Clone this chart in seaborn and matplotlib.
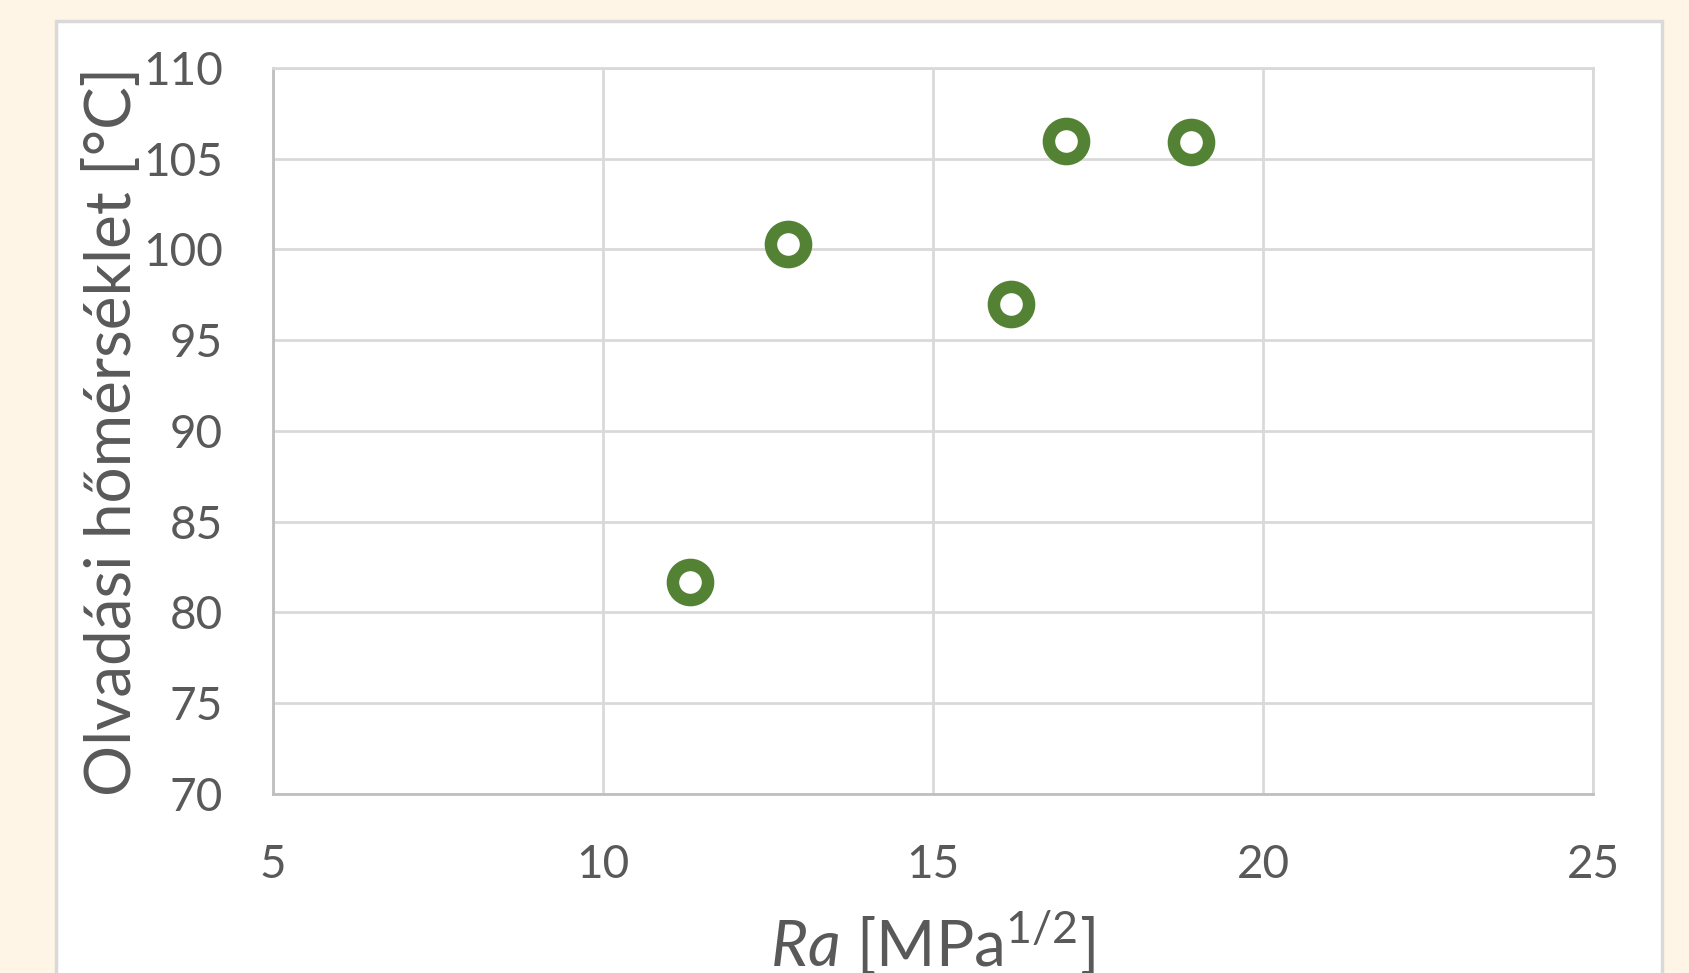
import matplotlib
matplotlib.use("Agg")
import matplotlib.pyplot as plt
import seaborn as sns
import pandas as pd
from matplotlib.patches import Rectangle

# Data
ra_values = [11.32, 12.80, 16.18, 17.02, 18.91]
melt_temps = [81.7, 100.3, 97.0, 106.0, 105.9]
x_ticks = [5, 10, 15, 20, 25]
y_ticks = [70, 75, 80, 85, 90, 95, 100, 105, 110]

df = pd.DataFrame({"Ra": ra_values, "T": melt_temps})

sns.set_theme(style="white")
plt.rcParams['font.family'] = ['Lato', 'DejaVu Sans']
plt.rcParams['mathtext.fontset'] = 'custom'
plt.rcParams['mathtext.rm'] = 'Lato'
plt.rcParams['mathtext.it'] = 'Lato:italic'

TEXT = "#595959"
GRID = "#D9D9D9"
GREEN = "#548235"

fig = plt.figure(figsize=(16.9, 9.73), dpi=100)
fig.patch.set_facecolor("#FEF5E7")
panel = Rectangle((56/1690, -0.05), (1662-56)/1690, (973-21)/973 + 0.05,
                  transform=fig.transFigure, facecolor="white",
                  edgecolor=GRID, linewidth=2.5, zorder=-10)
fig.patches.append(panel)

ax = fig.add_axes([273/1690, (973-794)/973, (1593-273)/1690, (794-68)/973])
ax.set_facecolor("white")
ax.set_zorder(1)

sns.scatterplot(data=df, x="Ra", y="T", ax=ax, s=640, marker="o",
                facecolor="white", edgecolor=GREEN, linewidth=9, zorder=5,
                clip_on=False)

ax.set_xlim(5, 25)
ax.set_ylim(70, 110)
ax.set_xticks(x_ticks)
ax.set_yticks(y_ticks)
ax.grid(True, color=GRID, linewidth=2)
ax.set_axisbelow(True)
for side in ["top", "right"]:
    ax.spines[side].set_color(GRID)
    ax.spines[side].set_linewidth(2)
for side in ["left", "bottom"]:
    ax.spines[side].set_color("#BFBFBF")
    ax.spines[side].set_linewidth(2)

ax.tick_params(axis="both", length=0, labelsize=33, labelcolor=TEXT, pad=36)

ax.set_xlabel(r"$\it{Ra}$ [MPa$^{1/2}$]", fontsize=46, color=TEXT)
ax.xaxis.label.set_va("baseline")
ax.xaxis.set_label_coords(0.5, -0.238)
ax.set_ylabel("Olvadási hőmérséklet [°C]", fontsize=46, color=TEXT)
ax.yaxis.label.set_va("center")
ax.yaxis.set_label_coords((113-273)/1320, 0.5)

fig.savefig("out.png", dpi=100, facecolor=fig.get_facecolor())
